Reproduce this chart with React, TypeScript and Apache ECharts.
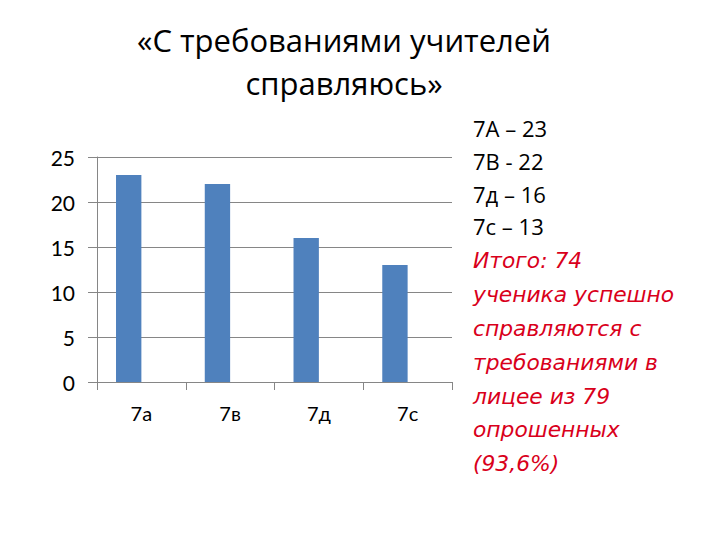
import React, { useEffect, useRef } from 'react'
import * as echarts from 'echarts'

const categories = ['7а', '7в', '7д', '7с']
const values = [23, 22, 16, 13]
const emptySeries = [null, null, null, null]
const yTicks = { min: 0, max: 25, interval: 5 }
const summaryLines = ['7А – 23', '7В - 22', '7д – 16', '7с – 13']
const noteLines = [
  'Итого: 74',
  'ученика успешно',
  'справляются с',
  'требованиями в',
  'лицее из 79',
  'опрошенных',
  '(93,6%)'
]

const FONT = 'Lato, "Liberation Sans", sans-serif'
const WIDE = '"Open Sans", "Noto Sans", sans-serif'

export default function App() {
  const ref = useRef<HTMLDivElement | null>(null)

  useEffect(() => {
    if (!ref.current) return
    const chart = echarts.init(ref.current, undefined, { renderer: 'svg' })

    const opt: echarts.EChartsOption = {
      animation: false,
      backgroundColor: '#ffffff',
      title: {
        text: '«С требованиями учителей\nсправляюсь»',
        left: 339,
        top: 13,
        textAlign: 'center',
        textStyle: {
          fontFamily: WIDE,
          fontSize: 31,
          fontWeight: 'normal',
          color: '#000',
          lineHeight: 43
        }
      },
      grid: { left: 97, right: 268, top: 157, bottom: 158, containLabel: false },
      xAxis: {
        type: 'category',
        data: categories,
        boundaryGap: true,
        axisLine: { lineStyle: { color: '#868686' } },
        axisTick: { show: true, length: 8, lineStyle: { color: '#868686' } },
        axisLabel: { margin: 21, fontFamily: FONT, fontSize: 20, color: '#000' }
      },
      yAxis: {
        type: 'value',
        min: yTicks.min,
        max: yTicks.max,
        interval: yTicks.interval,
        axisLine: { show: true, lineStyle: { color: '#868686' } },
        axisTick: { show: true, length: 9, lineStyle: { color: '#868686' } },
        axisLabel: { margin: 22, fontFamily: FONT, fontSize: 21, color: '#000' },
        splitLine: { lineStyle: { color: '#868686' } }
      },
      series: [
        {
          type: 'bar',
          data: values,
          barGap: '0%',
          barCategoryGap: '42.86%',
          itemStyle: { color: '#4F81BD' }
        },
        {
          type: 'bar',
          data: emptySeries,
          itemStyle: { color: '#C0504D' }
        }
      ],
      graphic: [
        {
          type: 'text',
          left: 473,
          top: 112,
          style: {
            text: summaryLines.join('\n'),
            font: `22px ${WIDE}`,
            fill: '#000',
            lineHeight: 32.7
          }
        },
        {
          type: 'text',
          left: 473,
          top: 244,
          style: {
            text: noteLines.join('\n'),
            font: `italic 21.8px "DejaVu Sans", sans-serif`,
            fill: '#D9001B',
            lineHeight: 33.8
          }
        }
      ]
    }

    chart.setOption(opt)
    return () => { chart.dispose() }
  }, [])

  return (
    <div
      ref={ref}
      style={{ position: 'absolute', left: 0, top: 0, width: 720, height: 540, background: '#fff' }}
    />
  )
}
